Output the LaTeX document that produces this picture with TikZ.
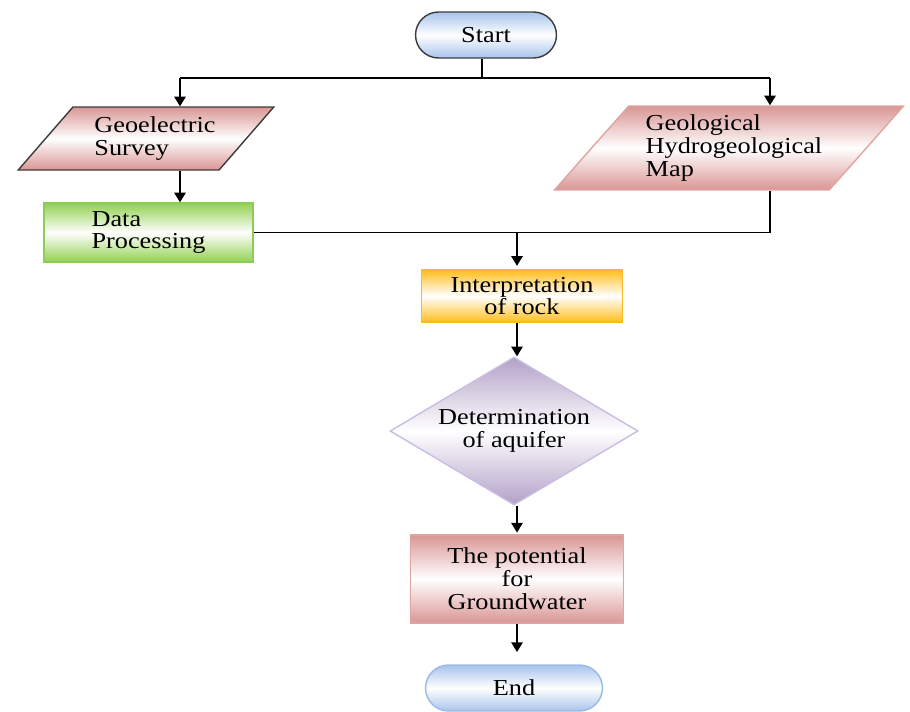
\documentclass[tikz,border=0pt]{standalone}
\usepackage{fontspec}
\setmainfont{Liberation Serif}[FakeStretch=1.15]
\usetikzlibrary{shapes.geometric, shapes.misc, arrows.meta, positioning}
\definecolor{mypink}{RGB}{217,150,148}
\definecolor{mypinkline}{RGB}{224,165,163}
\definecolor{mygreen}{RGB}{146,208,80}
\definecolor{mygreenline}{RGB}{140,205,90}
\definecolor{myorange}{RGB}{255,190,30}
\definecolor{myorangeline}{RGB}{250,185,40}
\definecolor{mypurple}{RGB}{178,161,199}
\definecolor{mylilac}{RGB}{200,190,228}
\definecolor{myblue}{RGB}{168,196,236}
\definecolor{myblueline}{RGB}{155,185,228}
\definecolor{mydark}{RGB}{60,60,60}
\tikzset{
  base/.style={font=\fontsize{13pt}{13pt}\selectfont, line width=0.8pt, inner sep=2pt},
  termbox/.style={base, rounded rectangle, minimum height=0.92cm,
    top color=myblue, bottom color=myblue, middle color=white},
  iobox/.style={base, trapezium, trapezium stretches=true, align=left,
    top color=mypink, bottom color=mypink, middle color=white},
  procbox/.style={base, rectangle, align=center},
  decbox/.style={base, diamond, align=center, draw=mylilac,
    top color=mypurple, bottom color=mypurple, middle color=white},
  arrow/.style={-{Triangle[length=5.5pt,width=6.5pt]}, line width=0.8pt, black},
  line/.style={line width=0.8pt, black}
}

\begin{document}
\begin{tikzpicture}[x=0.02cm, y=-0.02cm]
  \useasboundingbox (0,0) rectangle (910,711);

  \node[termbox, draw=mydark, minimum width=2.96cm] (start) at (486,35) {Start};
  \node[iobox, draw=mydark, trapezium left angle=42.8, trapezium right angle=137.2,
    minimum width=5.12cm, minimum height=1.26cm] (geoel) at (146,138.5)
    {\hspace*{0.36cm}Geoelectric\\\hspace*{0.36cm}Survey};
  \node[procbox, draw=mygreenline, top color=mygreen, bottom color=mygreen, middle color=white,
    align=left, minimum width=4.18cm, minimum height=1.18cm] (data) at (148.5,232.5) {Data\\Processing};
  \node[iobox, draw=mypinkline, trapezium left angle=45.7, trapezium right angle=134.3,
    minimum width=7cm, minimum height=1.68cm] (geomap) at (729,148)
    {\hspace*{0.2cm}Geological\\\hspace*{0.2cm}Hydrogeological\\\hspace*{0.2cm}Map};
  \node[procbox, draw=myorangeline, top color=myorange, bottom color=myorange, middle color=white,
    minimum width=4.02cm, minimum height=1.04cm] (interp) at (522,296) {Interpretation\\of rock};
  \node[decbox, aspect=1.68, minimum width=4.96cm, minimum height=2.96cm] (aquifer) at (514,431)
    {Determination\\of aquifer};
  \node[procbox, draw=mypinkline, top color=mypink, bottom color=mypink, middle color=white,
    minimum width=4.26cm, minimum height=1.76cm] (potential) at (517,579) {The potential\\for\\Groundwater};
  \node[termbox, draw=myblueline, minimum width=3.68cm] (end) at (514,688) {End};

  % branches from start
  \coordinate (split) at (482,78);
  \coordinate (leftx) at (180,78);
  \coordinate (rightx) at (770,78);
  \coordinate (midx) at (517,0);
  \draw[line] (start.south -| split) -- (split);
  \draw[line] (leftx) -- (rightx);
  \draw[arrow] (leftx) -- (geoel.north -| leftx);
  \draw[arrow] (rightx) -- (geomap.north -| rightx);
  \draw[arrow] (geoel.south -| leftx) -- (data.north -| leftx);

  % merge into interpretation
  \draw[line] (data.east) -| (geomap.south -| rightx);
  \draw[arrow] (data.east -| midx) -- ([yshift=2pt]interp.north -| midx);
  \draw[arrow] (interp.south -| midx) -- (aquifer.north -| midx);
  \draw[arrow] (aquifer.south -| midx) -- ([yshift=1pt]potential.north -| midx);
  \draw[arrow] (potential.south -| midx) -- ([yshift=7pt]end.north -| midx);
\end{tikzpicture}
\end{document}
